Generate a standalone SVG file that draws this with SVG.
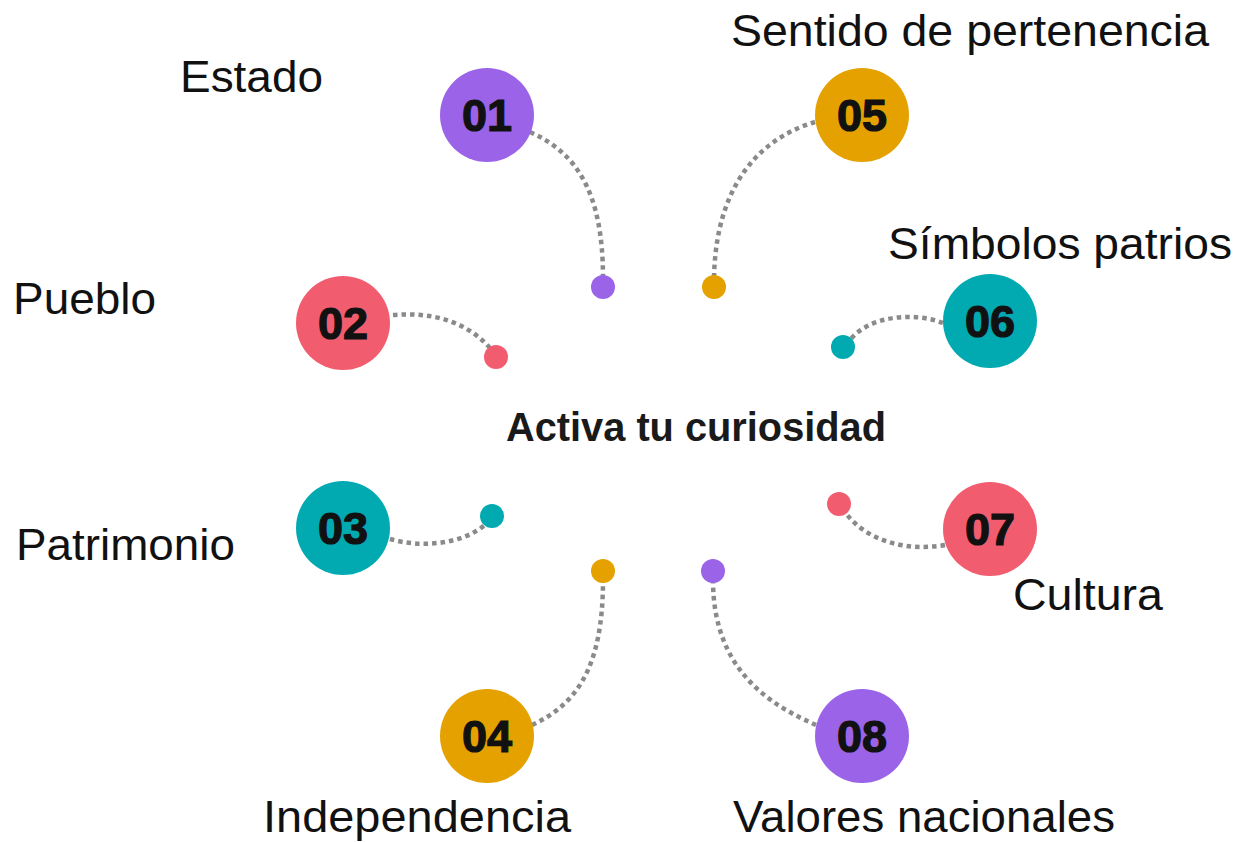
<svg xmlns="http://www.w3.org/2000/svg" width="1243" height="842" viewBox="0 0 1243 842">
<style>
.bg{fill:#ffffff}
.purple{fill:#9b63e8}
.red{fill:#f25c6f}
.teal{fill:#00aab0}
.gold{fill:#e4a100}
.num{font-family:"Liberation Sans",Arial,sans-serif;font-weight:bold;font-size:45px;fill:#111;stroke:#111;stroke-width:1.2;text-anchor:middle}
.lbl{font-family:"Liberation Sans",Arial,sans-serif;font-size:44px;fill:#111}
.title{font-family:"Liberation Sans",Arial,sans-serif;font-weight:bold;font-size:41px;fill:#1a1a1a}
.link{fill:none;stroke:#8a8a8a;stroke-width:4.5;stroke-dasharray:4.5 4}
</style>
<rect class="bg" x="0" y="0" width="1243" height="842"/>
<g id="connectors">
<path class="link" d="M530,132 C575,152 603,190 603,278"/>
<path class="link" d="M393,315 C430,312 465,320 490,348"/>
<path class="link" d="M390,539 C420,548 465,545 488,522"/>
<path class="link" d="M532,725 C575,705 603,670 603,580"/>
<path class="link" d="M815,122 C768,136 716,176 714,278"/>
<path class="link" d="M943,323 C915,312 870,315 850,340"/>
<path class="link" d="M945,545 C905,552 865,540 845,512"/>
<path class="link" d="M816,725 C770,705 713,670 713,580"/>
</g>
<g id="title"><text class="title" x="506" y="441" textLength="380" lengthAdjust="spacingAndGlyphs">Activa tu curiosidad</text></g>
<g id="node01">
<circle class="purple" cx="487" cy="115" r="47"/>
<text class="num" x="487" y="131">01</text>
<circle class="purple" cx="603" cy="287" r="12"/>
<text class="lbl" x="180" y="92" textLength="143" lengthAdjust="spacingAndGlyphs">Estado</text>
</g>
<g id="node02">
<circle class="red" cx="343" cy="323" r="47"/>
<text class="num" x="343" y="339">02</text>
<circle class="red" cx="496" cy="357" r="12"/>
<text class="lbl" x="13" y="314" textLength="143" lengthAdjust="spacingAndGlyphs">Pueblo</text>
</g>
<g id="node03">
<circle class="teal" cx="343" cy="528" r="47"/>
<text class="num" x="343" y="544">03</text>
<circle class="teal" cx="492" cy="516" r="12"/>
<text class="lbl" x="16" y="560" textLength="219" lengthAdjust="spacingAndGlyphs">Patrimonio</text>
</g>
<g id="node04">
<circle class="gold" cx="487" cy="736" r="47"/>
<text class="num" x="487" y="752">04</text>
<circle class="gold" cx="603" cy="571" r="12"/>
<text class="lbl" x="263" y="832" textLength="308" lengthAdjust="spacingAndGlyphs">Independencia</text>
</g>
<g id="node05">
<circle class="gold" cx="862" cy="115" r="47"/>
<text class="num" x="862" y="131">05</text>
<circle class="gold" cx="714" cy="287" r="12"/>
<text class="lbl" x="731" y="46" textLength="478" lengthAdjust="spacingAndGlyphs">Sentido de pertenencia</text>
</g>
<g id="node06">
<circle class="teal" cx="990" cy="321" r="47"/>
<text class="num" x="990" y="337">06</text>
<circle class="teal" cx="843" cy="347" r="12"/>
<text class="lbl" x="888" y="259" textLength="344" lengthAdjust="spacingAndGlyphs">Símbolos patrios</text>
</g>
<g id="node07">
<circle class="red" cx="990" cy="529" r="47"/>
<text class="num" x="990" y="545">07</text>
<circle class="red" cx="839" cy="504" r="12"/>
<text class="lbl" x="1013" y="610" textLength="150" lengthAdjust="spacingAndGlyphs">Cultura</text>
</g>
<g id="node08">
<circle class="purple" cx="862" cy="736" r="47"/>
<text class="num" x="862" y="752">08</text>
<circle class="purple" cx="713" cy="571" r="12"/>
<text class="lbl" x="733" y="832" textLength="382" lengthAdjust="spacingAndGlyphs">Valores nacionales</text>
</g>
</svg>
